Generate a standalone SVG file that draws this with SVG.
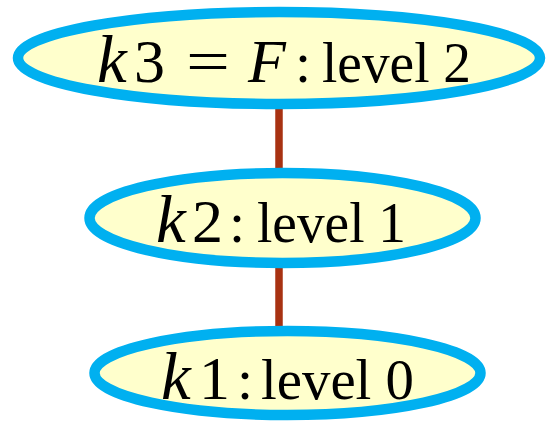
<svg xmlns="http://www.w3.org/2000/svg" width="547" height="422" viewBox="0 0 547 422">
  <style>
    .node ellipse { fill: #ffffcc; stroke: #00b0f0; stroke-width: 10.5; }
    .edge { stroke: #a83212; stroke-width: 7.5; fill: none; }
    .lbl { font-family: "Liberation Serif", "Times New Roman", serif; fill: #000; }
    .m { font-size: 62px; }
    .k { font-size: 67px; font-style: italic; }
    .i { font-style: italic; }
    .t { font-size: 58px; }
  </style>
  <rect width="547" height="422" fill="#ffffff"/>
  <g id="connectors">
    <line class="edge" x1="279" y1="104" x2="279" y2="172"/>
    <line class="edge" x1="279" y1="263" x2="279" y2="330"/>
  </g>
  <g id="node-k3" class="node">
    <ellipse cx="279" cy="58" rx="261" ry="46"/>
    <text class="lbl" y="82">
      <tspan class="k" x="97">k</tspan><tspan class="m" x="134">3</tspan><tspan class="m" x="186" textLength="44" lengthAdjust="spacingAndGlyphs">=</tspan><tspan class="m i" x="248">F</tspan><tspan class="t" x="295">:</tspan><tspan class="t" x="322" textLength="149" lengthAdjust="spacingAndGlyphs">level 2</tspan>
    </text>
  </g>
  <g id="node-k2" class="node">
    <ellipse cx="282.5" cy="218" rx="193" ry="45"/>
    <text class="lbl" y="242">
      <tspan class="k" x="156">k</tspan><tspan class="m" x="192">2</tspan><tspan class="t" x="229">:</tspan><tspan class="t" x="257" textLength="149" lengthAdjust="spacingAndGlyphs">level 1</tspan>
    </text>
  </g>
  <g id="node-k1" class="node">
    <ellipse cx="287.5" cy="373" rx="193" ry="42"/>
    <text class="lbl" y="399">
      <tspan class="k" x="161">k</tspan><tspan class="m" x="199">1</tspan><tspan class="t" x="237">:</tspan><tspan class="t" x="261" textLength="153" lengthAdjust="spacingAndGlyphs">level 0</tspan>
    </text>
  </g>
</svg>
